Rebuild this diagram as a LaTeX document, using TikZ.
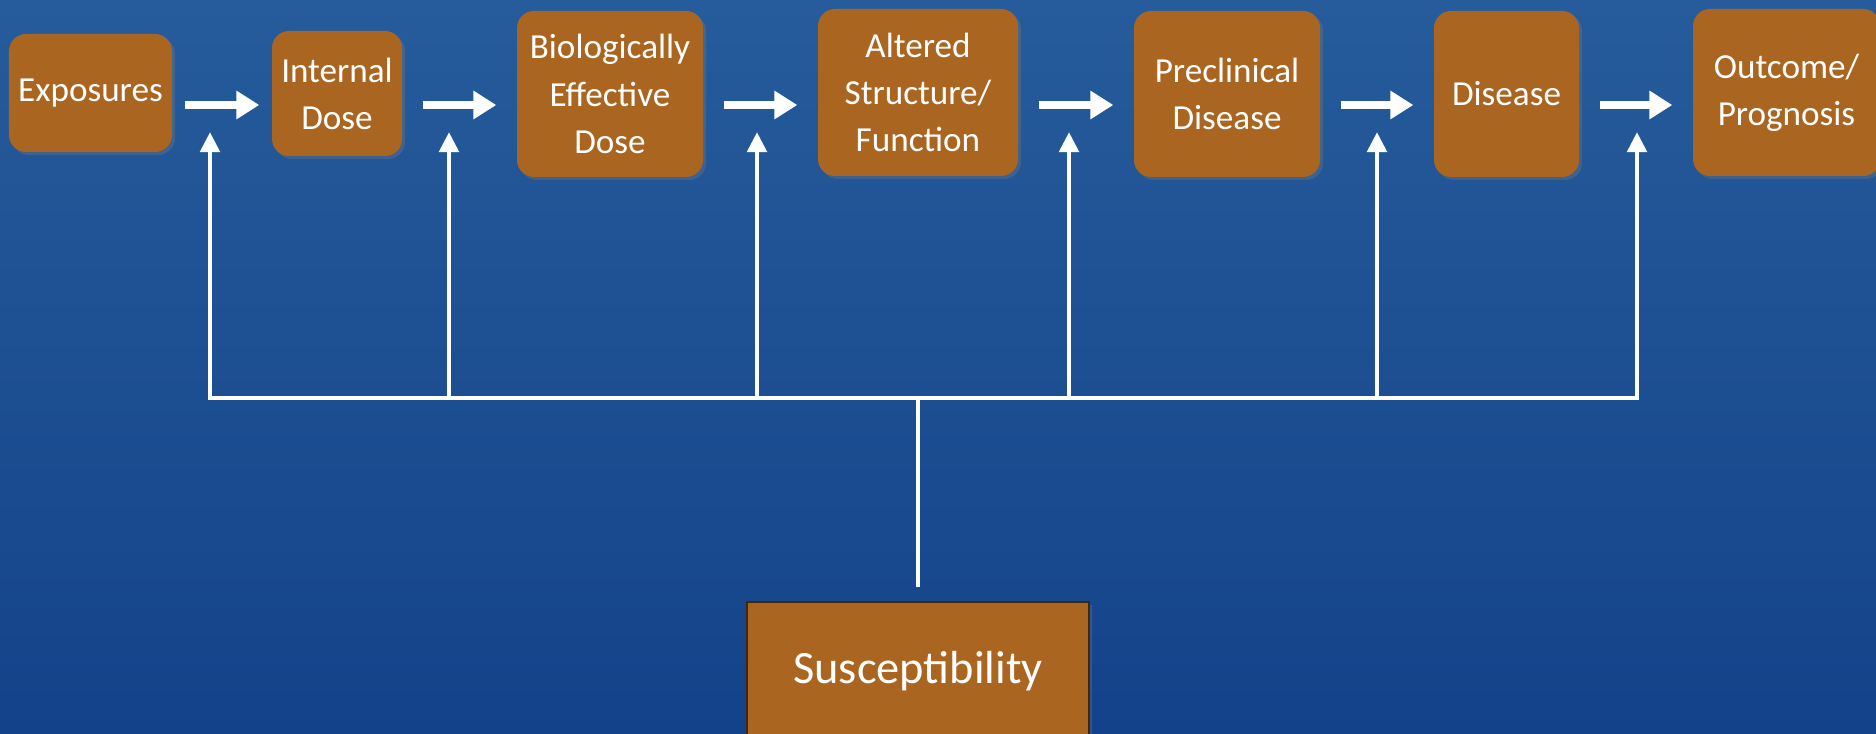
\documentclass[tikz,border=0pt]{standalone}
\usepackage{fontspec}
\setmainfont{Carlito}
\usetikzlibrary{arrows.meta, shadows}
\definecolor{boxbrown}{RGB}{170,101,32}
\definecolor{boxedge}{RGB}{62,40,14}
\definecolor{seatop}{RGB}{38,92,155}
\definecolor{seabot}{RGB}{20,66,138}

\begin{document}
\begin{tikzpicture}[
    stage/.style={rounded corners=0.17cm, fill=boxbrown, text=white, align=center,
      font=\fontsize{10}{13.4}\selectfont, inner sep=0pt,
      drop shadow={opacity=0.3, shadow xshift=0.03cm, shadow yshift=-0.03cm}},
    flow/.style={-{Triangle[width=7.7pt,length=6.5pt]}, line width=2pt, white},
    feed/.style={-{Triangle[width=5.4pt,length=5.7pt]}, line width=1.4pt, white},
    bus/.style={line width=1.4pt, white, line cap=rect}]
  % Sea background
  \clip (0,0) rectangle (18.76,-7.34);
  \shade[top color=seatop, bottom color=seabot] (0,0) rectangle (18.76,-7.34);
  % Stages
  \node[stage, minimum width=1.63cm, minimum height=1.18cm] (exp) at (0.905,-0.93) {Exposures};
  \node[stage, minimum width=1.30cm, minimum height=1.25cm] (int) at (3.37,-0.935) {Internal\\Dose};
  \node[stage, minimum width=1.86cm, minimum height=1.66cm] (bed) at (6.10,-0.94) {Biologically\\Effective\\Dose};
  \node[stage, minimum width=2.00cm, minimum height=1.67cm] (alt) at (9.18,-0.925) {Altered\\Structure/\\Function};
  \node[stage, minimum width=1.86cm, minimum height=1.66cm] (pre) at (12.27,-0.94) {Preclinical\\Disease};
  \node[stage, minimum width=1.45cm, minimum height=1.66cm] (dis) at (15.065,-0.94) {Disease};
  \node[stage, minimum width=1.87cm, minimum height=1.67cm] (out) at (17.865,-0.925) {Outcome/\\Prognosis};
  \node[stage, rounded corners=0pt, draw=boxedge, line width=0.6pt,
    font=\fontsize{13.2}{16}\selectfont, minimum width=3.42cm, minimum height=1.38cm] (sus) at (9.18,-6.71) {Susceptibility};
  % Flow arrows
  \coordinate (row) at (0,-1.05);
  \foreach \a/\b/\g in {exp/int/0.12, int/bed/0.2, bed/alt/0.2, alt/pre/0.2, pre/dis/0.2, dis/out/0.2}
    \draw[flow, shorten <=\g cm, shorten >=\g cm] (\a.east |- row) -- (\b.west |- row);
  % Susceptibility feeds
  \coordinate (busrow) at (0,-3.98);
  \foreach \x [count=\i] in {2.10, 4.49, 7.57, 10.69, 13.77, 16.37} {
    \coordinate (t\i) at (\x,-1.32);
    \draw[feed] (t\i |- busrow) -- (t\i);
  }
  \draw[bus] (t1 |- busrow) -- (t6 |- busrow);
  \draw[bus, line cap=butt] (sus.north |- busrow) -- ([yshift=0.14cm]sus.north);
\end{tikzpicture}
\end{document}
